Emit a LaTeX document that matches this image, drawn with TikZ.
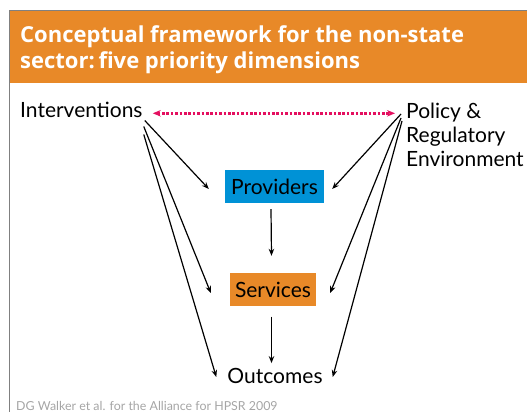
\documentclass[tikz,border=0pt]{standalone}
\usepackage{fontspec}
\setmainfont{Lato}
\newfontfamily\headfont{Open Sans}
\usetikzlibrary{arrows.meta}
\definecolor{hdorange}{RGB}{232,137,40}
\definecolor{provblue}{RGB}{0,146,214}
\definecolor{linkpink}{RGB}{228,15,95}
\definecolor{framegray}{RGB}{128,128,128}
\definecolor{notegray}{RGB}{165,165,165}
\tikzset{
    TX/.style ={inner sep=0pt, font=\fontsize{21}{24}\selectfont},
    BX1/.style ={TX, fill=provblue, minimum width=99pt, minimum height=33pt},
    BX2/.style ={TX, fill=hdorange, minimum width=86pt, minimum height=33pt},
    AR/.style ={-{Stealth[length=7pt,width=5.5pt]}, line width=1.2pt},
    LK/.style ={{Stealth[length=8pt,width=6.5pt]}-{Stealth[length=8pt,width=6.5pt]}, linkpink, line width=2.6pt, dash pattern=on 2.6pt off 1.8pt}}

\begin{document}
\begin{tikzpicture}[x=1pt,y=-1pt]
        \useasboundingbox (0,0) rectangle (527,412);
        \fill[hdorange] (9,10) rectangle (527,83);
        \draw[framegray] (527,10) -- (9,10) -- (9,412);
        \node[TX, anchor=base west, align=left, text=white, font=\headfont\fontsize{22}{27}\selectfont\bfseries] (title) at (20,69) {Conceptual framework for the non-state\\sector:\,five priority dimensions};
        \node[TX, anchor=base west] (int) at (20,117.5) {Interventions};
        \node[TX, anchor=base west, align=left] (pol) at (406,166) {Policy \&\\Regulatory\\Environment};
        \node[BX1] (prov) at (274.5,186.5) {Providers};
        \node[BX2] (serv) at (273,289.5) {Services};
        \node[TX] (outc) at (275,376) {Outcomes};
        \node[TX, anchor=base west, text=notegray, font=\fontsize{12.4}{14}\selectfont] (note) at (16,410) {DG Walker et al. for the Alliance for HPSR 2009};
        \draw[LK] ([xshift=10pt,yshift=4.2pt]int.base east) -- ([xshift=-11pt,yshift=52.7pt]pol.base west);
        \draw[AR] ([xshift=2pt,yshift=-3pt]int.base east) -- ([xshift=-16pt,yshift=-2.5pt]prov.west);
        \draw[AR] ([xshift=1pt,yshift=-9pt]int.base east) -- ([xshift=-19pt,yshift=-3.5pt]serv.west);
        \draw[AR] ([xshift=1pt,yshift=-17pt]int.base east) -- ([xshift=-11pt,yshift=-1pt]outc.west);
        \draw[AR] ([xshift=-5pt,yshift=52pt]pol.base west) -- ([xshift=8pt,yshift=-2.5pt]prov.east);
        \draw[AR] ([xshift=-5pt,yshift=48pt]pol.base west) -- ([xshift=14pt,yshift=-3.5pt]serv.east);
        \draw[AR] ([xshift=-4pt,yshift=45pt]pol.base west) -- ([xshift=10pt,yshift=-1pt]outc.east);
        \draw[AR] ([xshift=-3.5pt,yshift=-6pt]prov.south) -- ([xshift=-1.5pt,yshift=17pt]serv.north);
        \draw[AR] ([xshift=-1.5pt,yshift=-10.5pt]serv.south) -- ([xshift=-3.5pt,yshift=5pt]outc.north);
    \end{tikzpicture}
\end{document}
